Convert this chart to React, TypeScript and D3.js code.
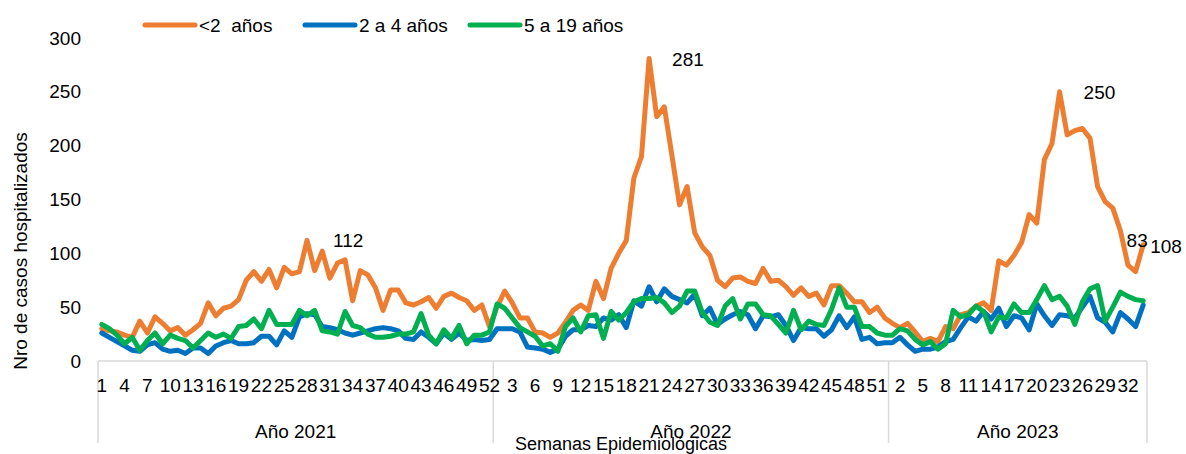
import React from 'react';
import * as d3 from 'd3';

// ---------- data ----------
const yearLabels = ['Año 2021', 'Año 2022', 'Año 2023'];
const weeksPerYear = [52, 52, 34];
const seriesNames = ['<2  años', '2 a 4 años', '5 a 19 años'];
const seriesColors = ['#ED7D31', '#0070C0', '#00B050'];

// <2 años
const under2 = [
  // 2021
  30, 28, 27, 24, 22, 37, 26, 41, 35, 28, 31, 24, 29, 35, 54, 42, 49, 51, 57, 75, 83, 74, 85, 68, 87, 81,
  83, 112, 84, 102, 77, 91, 94, 56, 84, 80, 68, 47, 66, 66, 54, 52, 55, 59, 49, 60, 63, 59, 56, 47, 52, 32,
  // 2022
  50, 65, 54, 40, 40, 27, 26, 22, 26, 36, 47, 52, 47, 74, 58, 86, 100, 112, 170, 190, 281, 227, 236, 191, 145, 162,
  119, 106, 98, 75, 69, 77, 78, 74, 72, 86, 74, 75, 69, 61, 68, 60, 63, 52, 70, 70, 63, 55, 55, 45, 50, 40,
  // 2023
  35, 31, 35, 27, 18, 21, 18, 32, 30, 43, 45, 51, 54, 47, 93, 89, 98, 110, 136, 128, 187, 202, 250, 210, 214, 216,
  207, 162, 148, 142, 121, 89, 83, 108,
];

// 2 a 4 años
const age2to4 = [
  // 2021
  26, 22, 18, 14, 10, 9, 15, 17, 11, 9, 10, 7, 12, 12, 7, 14, 17, 19, 16, 16, 17, 23, 23, 15, 28, 22,
  41, 44, 43, 32, 31, 29, 26, 24, 26, 28, 30, 31, 30, 28, 21, 20, 27, 22, 16, 26, 20, 26, 19, 20, 19, 20,
  // 2022
  30, 30, 30, 27, 13, 12, 11, 8, 11, 23, 29, 29, 33, 32, 40, 38, 43, 31, 56, 51, 69, 55, 67, 60, 57, 54,
  62, 42, 49, 34, 39, 43, 46, 43, 30, 42, 41, 43, 33, 19, 31, 30, 30, 23, 29, 42, 31, 41, 20, 22, 16, 17,
  // 2023
  17, 22, 15, 9, 11, 11, 13, 18, 20, 31, 41, 37, 46, 39, 49, 32, 42, 40, 29, 53, 42, 33, 43, 42, 40, 50,
  60, 40, 36, 27, 45, 39, 32, 52,
];

// 5 a 19 años
const age5to19 = [
  // 2021
  34, 30, 24, 16, 22, 10, 19, 26, 16, 24, 21, 19, 12, 19, 26, 22, 25, 21, 32, 33, 39, 30, 47, 34, 34, 34,
  47, 42, 47, 28, 27, 25, 46, 33, 31, 25, 22, 22, 23, 25, 25, 27, 44, 24, 16, 29, 21, 33, 16, 24, 24, 27,
  // 2022
  53, 49, 40, 31, 27, 23, 14, 16, 9, 32, 40, 27, 42, 43, 21, 46, 38, 45, 55, 58, 58, 59, 54, 45, 51, 65,
  65, 45, 36, 33, 51, 58, 39, 53, 53, 43, 42, 34, 26, 47, 29, 37, 34, 33, 48, 68, 50, 50, 32, 32, 26, 24,
  // 2023
  24, 30, 28, 20, 15, 18, 11, 16, 47, 41, 43, 51, 46, 27, 41, 40, 53, 45, 45, 57, 70, 57, 60, 51, 34, 55,
  67, 70, 37, 50, 64, 60, 57, 56,
];

const yTicks = [0, 50, 100, 150, 200, 250, 300];
const xTickStep = 3;

// value labels shown on the <2 años series (index into the combined week list)
const valueLabels = [
  { index: 27, dx: 26, dy: 0 },
  { index: 72, dx: 23, dy: 1 },
  { index: 126, dx: 24, dy: 1 },
  { index: 136, dx: -9, dy: -31 },
  { index: 137, dx: 7, dy: 2 },
];

// ---------- chart ----------
const W = 1186;
const H = 454;
const FONT = "'Liberation Sans', Arial, sans-serif";

export default function App() {
  const categories: { year: number; week: number }[] = [];
  weeksPerYear.forEach((n, yi) => {
    for (let w = 1; w <= n; w++) categories.push({ year: yi, week: w });
  });
  const N = categories.length;

  const plotLeft = 98;
  const plotRight = 1147;
  const plotTop = 38;
  const plotBottom = 361;

  const x = d3.scaleBand<number>().domain(d3.range(N)).range([plotLeft, plotRight]);
  const bw = x.bandwidth();
  const cx = (i: number) => (x(i) as number) + bw / 2;
  const y = d3.scaleLinear().domain([0, 300]).range([plotBottom, plotTop]);

  const line = d3
    .line<number>()
    .x((_, i) => cx(i))
    .y((d) => y(d));

  const series = [under2, age2to4, age5to19];

  // group boundaries
  const starts: number[] = [];
  let acc = 0;
  weeksPerYear.forEach((n) => {
    starts.push(acc);
    acc += n;
  });
  const boundaryX = [...starts.map((s) => x(s) as number), plotRight];

  const legendItems = [
    { x1: 145, x2: 195, tx: 199 },
    { x1: 305, x2: 355, tx: 359 },
    { x1: 470, x2: 520, tx: 524 },
  ];

  return (
    <svg
      width={W}
      height={H}
      style={{ position: 'absolute', left: 0, top: 0, background: '#fff' }}
      fontFamily={FONT}
    >
      <rect x={0} y={0} width={W} height={H} fill="#fff" />

      {/* legend */}
      {seriesNames.map((name, i) => (
        <g key={name}>
          <line
            x1={legendItems[i].x1}
            x2={legendItems[i].x2}
            y1={25}
            y2={25}
            stroke={seriesColors[i]}
            strokeWidth={5}
            strokeLinecap="round"
          />
          <text
            x={legendItems[i].tx}
            y={25}
            fontSize={19}
            dominantBaseline="central"
            fill="#000"
            style={{ whiteSpace: 'pre' }}
          >
            {name}
          </text>
        </g>
      ))}

      {/* y axis ticks */}
      {yTicks.map((t) => (
        <text key={t} x={81} y={y(t)} fontSize={19} textAnchor="end" dominantBaseline="central" fill="#000">
          {t}
        </text>
      ))}

      {/* y title */}
      <text
        transform={`translate(20,251) rotate(-90)`}
        fontSize={19}
        textAnchor="middle"
        dominantBaseline="central"
        fill="#000"
      >
        Nro de casos hospitalizados
      </text>

      {/* x axis line */}
      <line x1={plotLeft} x2={plotRight} y1={plotBottom} y2={plotBottom} stroke="#D9D9D9" strokeWidth={1.5} />
      {boundaryX.map((bx, i) => (
        <line key={i} x1={bx} x2={bx} y1={plotBottom} y2={443} stroke="#D9D9D9" strokeWidth={1.5} />
      ))}

      {/* week tick labels */}
      {categories.map((c, i) =>
        i % xTickStep === 0 ? (
          <text key={i} x={cx(i)} y={385} fontSize={19} textAnchor="middle" dominantBaseline="central" fill="#000">
            {c.week}
          </text>
        ) : null
      )}

      {/* year labels */}
      {yearLabels.map((yl, i) => (
        <text
          key={yl}
          x={(boundaryX[i] + boundaryX[i + 1]) / 2}
          y={431}
          fontSize={19}
          textAnchor="middle"
          dominantBaseline="central"
          fill="#000"
        >
          {yl}
        </text>
      ))}

      <text x={621} y={444} fontSize={18} textAnchor="middle" dominantBaseline="central" fill="#000">
        Semanas Epidemiológicas
      </text>

      {/* series lines */}
      {series.map((s, i) => (
        <path
          key={i}
          d={line(s) || ''}
          fill="none"
          stroke={seriesColors[i]}
          strokeWidth={5}
          strokeLinejoin="round"
          strokeLinecap="round"
        />
      ))}

      {/* value labels */}
      {valueLabels.map((l) => (
        <text
          key={l.index}
          x={cx(l.index) + l.dx}
          y={y(under2[l.index]) + l.dy}
          fontSize={19}
          dominantBaseline="central"
          fill="#000"
        >
          {under2[l.index]}
        </text>
      ))}
    </svg>
  );
}
